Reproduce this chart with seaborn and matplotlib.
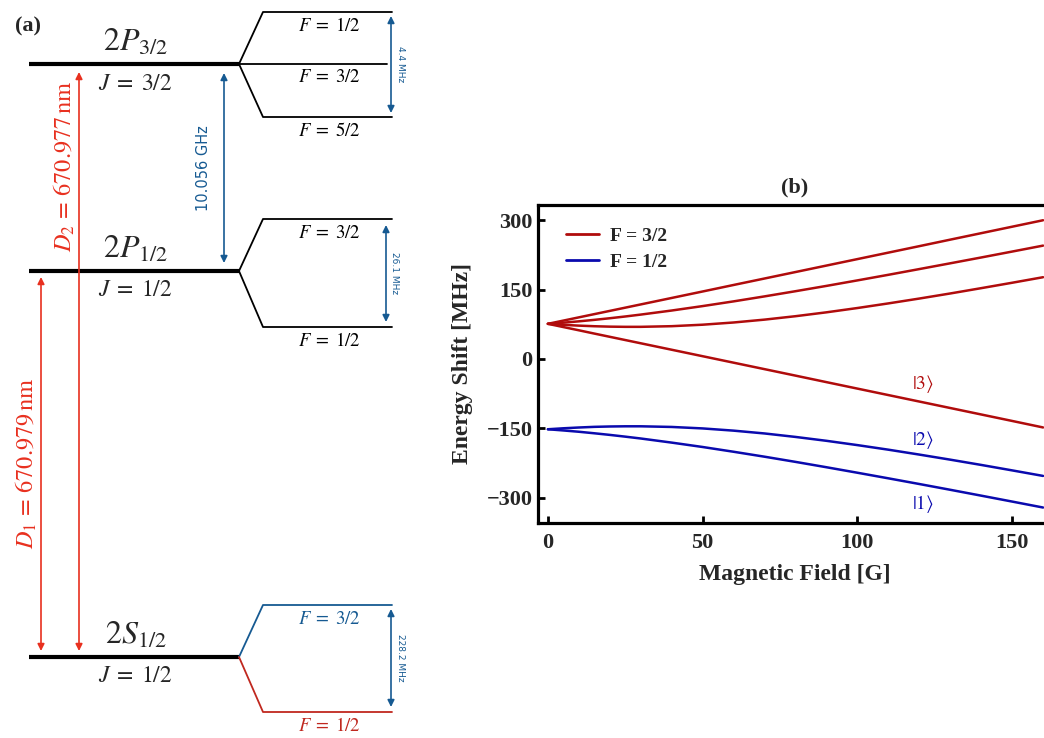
import numpy as np
import pandas as pd
import matplotlib
matplotlib.use("Agg")
import matplotlib.pyplot as plt
import seaborn as sns

# ---------------- panel (b): energy shift vs magnetic field ----------------
B_field = [0, 5, 10, 15, 20, 25, 30, 40, 50, 60, 70, 80, 90, 100, 110, 120, 130, 140, 150, 160]
E_F32_a = [76.1, 83.1, 90.1, 97.1, 104.1, 111.1, 118.1, 132.1, 146.1, 160.2, 174.2, 188.2, 202.2, 216.2,
           230.2, 244.2, 258.3, 272.3, 286.3, 300.3]
E_F32_b = [76.1, 78.6, 81.5, 84.7, 88.2, 92.0, 96.1, 104.9, 114.5, 124.7, 135.5, 146.7, 158.2, 170.1,
           182.2, 194.6, 207.1, 219.7, 232.5, 245.4]
E_F32_c = [76.1, 73.9, 72.2, 70.9, 70.0, 69.6, 69.6, 71.0, 74.2, 79.0, 85.2, 92.6, 101.0, 110.3,
           120.3, 130.8, 141.8, 153.3, 165.0, 177.0]
E_F32_d = [76.1, 69.1, 62.1, 55.0, 48.0, 41.0, 34.0, 20.0, 6.0, -8.0, -22.0, -36.0, -50.1, -64.1,
           -78.1, -92.1, -106.1, -120.1, -134.1, -148.2]
E_F12_a = [-152.1, -150.0, -148.3, -146.9, -146.1, -145.7, -145.7, -147.1, -150.3, -155.1, -161.2, -168.7,
           -177.1, -186.4, -196.3, -206.9, -217.9, -229.3, -241.1, -253.1]
E_F12_b = [-152.1, -154.7, -157.5, -160.8, -164.3, -168.1, -172.1, -181.0, -190.5, -200.8, -211.5, -222.7,
           -234.3, -246.2, -258.3, -270.6, -283.1, -295.8, -308.6, -321.5]

curve_values = [E_F32_a, E_F32_b, E_F32_c, E_F32_d, E_F12_a, E_F12_b]
curve_groups = ["F = 3/2"] * 4 + ["F = 1/2"] * 2
x_ticks = [0, 50, 100, 150]
y_ticks = [300, 150, 0, -150, -300]

ket_labels = [r"$|3\rangle$", r"$|2\rangle$", r"$|1\rangle$"]
ket_B = [117.6, 117.6, 117.6]
ket_E = [-54, -175, -314]

# ---------------- panel (a): level diagram ----------------
level_names = [r"$2P_{3/2}$", r"$2P_{1/2}$", r"$2S_{1/2}$"]
level_J = [r"$J\;=\;3/2$", r"$J\;=\;1/2$", r"$J\;=\;1/2$"]
level_y = [64, 271, 657]                      # schematic position of fine-structure levels
sub_labels = [[r"$F\;=\;1/2$", r"$F\;=\;3/2$", r"$F\;=\;5/2$"],
              [r"$F\;=\;3/2$", r"$F\;=\;1/2$"],
              [r"$F\;=\;3/2$", r"$F\;=\;1/2$"]]
sub_y = [[12, 64, 117], [219, 327], [605, 712]]
hfs_labels = ["4.4 MHz", "26.1 MHz", "228.2 MHz"]
fs_label = "10.056 GHz"
d_labels = [r"$D_2\,=\,670.977\,\mathrm{nm}$", r"$D_1\,=\,670.979\,\mathrm{nm}$"]

RED_B = "#B00C0C"
BLUE_B = "#0A0AAE"
RED_A = "#E8301F"
BLUE_A = "#165A92"
RED_A2 = "#C0281F"

sns.set_style("ticks")
plt.rcParams["font.family"] = ["Liberation Serif", "DejaVu Serif"]
plt.rcParams["mathtext.fontset"] = "stix"

W, H = 1044, 738
fig = plt.figure(figsize=(W / 100, H / 100), dpi=100)

# ---- panel (a) in pixel coordinates ----
ax0 = fig.add_axes([0, 0, 1, 1])
ax0.set_xlim(0, W)
ax0.set_ylim(H, 0)
ax0.axis("off")

xl0, xl1, xk, xs1 = 29, 239, 263, 392
for i, y in enumerate(level_y):
    ax0.plot([xl0, xl1], [y, y], color="black", lw=3.0, solid_capstyle="butt")
    ax0.text(136, y - 21, level_names[i], fontsize=23, ha="center", va="center")
    ax0.text(135, y + 20, level_J[i], fontsize=17, ha="center", va="center")
    for j, ys in enumerate(sub_y[i]):
        if i == 2:
            col = BLUE_A if j == 0 else RED_A2
        else:
            col = "black"
        if ys == y:
            ax0.plot([xl1, 387], [y, y], color=col, lw=1.3)
        else:
            ax0.plot([xl1, xk, xs1], [y, ys, ys], color=col, lw=1.3)
        ax0.text(329, ys + 14, sub_labels[i][j], fontsize=13.5, ha="center", va="center",
                 color=col if i == 2 else "black")

arrow_kw = dict(arrowstyle="<|-|>", shrinkA=0, shrinkB=0, mutation_scale=10, lw=1.2)
# hyperfine splittings
hfs_x = [391, 386, 391]
hfs_span = [(16, 113), (225, 322), (609, 707)]
for k in range(3):
    ax0.annotate("", xy=(hfs_x[k], hfs_span[k][0]), xytext=(hfs_x[k], hfs_span[k][1]),
                 arrowprops=dict(color=BLUE_A, **arrow_kw))
    ax0.text(hfs_x[k] + 9, sum(hfs_span[k]) / 2, hfs_labels[k], rotation=-90, fontsize=6.5,
             color=BLUE_A, ha="center", va="center", family="DejaVu Sans")
# fine structure splitting
ax0.annotate("", xy=(224, 73), xytext=(224, 263), arrowprops=dict(color=BLUE_A, **arrow_kw))
ax0.text(203, 168, fs_label, rotation=90, fontsize=10.5, color=BLUE_A, ha="center", va="center",
         family="DejaVu Sans")
# optical transitions
ax0.annotate("", xy=(79, 72), xytext=(79, 651), arrowprops=dict(color=RED_A, **arrow_kw))
ax0.annotate("", xy=(41, 277), xytext=(41, 651), arrowprops=dict(color=RED_A, **arrow_kw))
ax0.text(64, 166, d_labels[0], rotation=90, fontsize=17.5, color=RED_A, ha="center", va="center")
ax0.text(26, 463, d_labels[1], rotation=90, fontsize=17.5, color=RED_A, ha="center", va="center")
ax0.text(28, 26, "(a)", fontsize=16, fontweight="bold", ha="center", va="center")

# ---- panel (b) ----
rows = []
for idx, (vals, grp) in enumerate(zip(curve_values, curve_groups)):
    for b, e in zip(B_field, vals):
        rows.append({"B": b, "E": e, "F": grp, "state": idx})
df = pd.DataFrame(rows)

ax_l, ax_r, ax_t, ax_b = 538, 1044, 205, 523
ax = fig.add_axes([ax_l / W, 1 - ax_b / H, (ax_r - ax_l) / W, (ax_b - ax_t) / H])
sns.lineplot(data=df, x="B", y="E", hue="F", units="state", estimator=None,
             palette={"F = 3/2": RED_B, "F = 1/2": BLUE_B}, lw=1.8, ax=ax, sort=False)
ax.set_xlim(-3.2, 160.3)
ax.set_ylim(-355, 333.3)
ax.set_xticks(x_ticks)
ax.set_yticks(y_ticks)
ax.set_yticklabels([str(t).replace("-", "\u2212") for t in y_ticks])
for lab in ax.get_xticklabels() + ax.get_yticklabels():
    lab.set_fontweight("bold")
ax.tick_params(direction="in", length=5, width=2, labelsize=16, color="black")
ax.tick_params(axis="x", pad=7)
ax.tick_params(axis="y", pad=4)
for s in ["left", "bottom", "top"]:
    ax.spines[s].set_linewidth(2.3)
    ax.spines[s].set_color("black")
ax.spines["right"].set_visible(False)

ax.set_xlabel("Magnetic Field [G]", fontsize=17, fontweight="bold")
ax.set_ylabel("Energy Shift [MHz]", fontsize=17, fontweight="bold")
ax.xaxis.set_label_coords((795 - ax_l) / (ax_r - ax_l), (ax_b - 564) / (ax_b - ax_t))
ax.yaxis.set_label_coords((473 - ax_l) / (ax_r - ax_l), 0.5)
ax.text((795 - ax_l) / (ax_r - ax_l), (ax_b - 187) / (ax_b - ax_t), "(b)", transform=ax.transAxes,
        fontsize=16, fontweight="bold", ha="center", va="center")

ket_cols = [RED_B, BLUE_B, BLUE_B]
for lab, b, e, c in zip(ket_labels, ket_B, ket_E, ket_cols):
    ax.text(b, e, lab, color=c, fontsize=14, ha="left", va="center")

leg = ax.legend(loc="upper left", frameon=False, prop={"weight": "bold", "size": 14},
                handlelength=1.7, handletextpad=0.6, labelspacing=0.45,
                bbox_to_anchor=(0.02, 0.985))
for h in leg.legend_handles:
    h.set_linewidth(2.0)

fig.savefig("out.png", dpi=100)
